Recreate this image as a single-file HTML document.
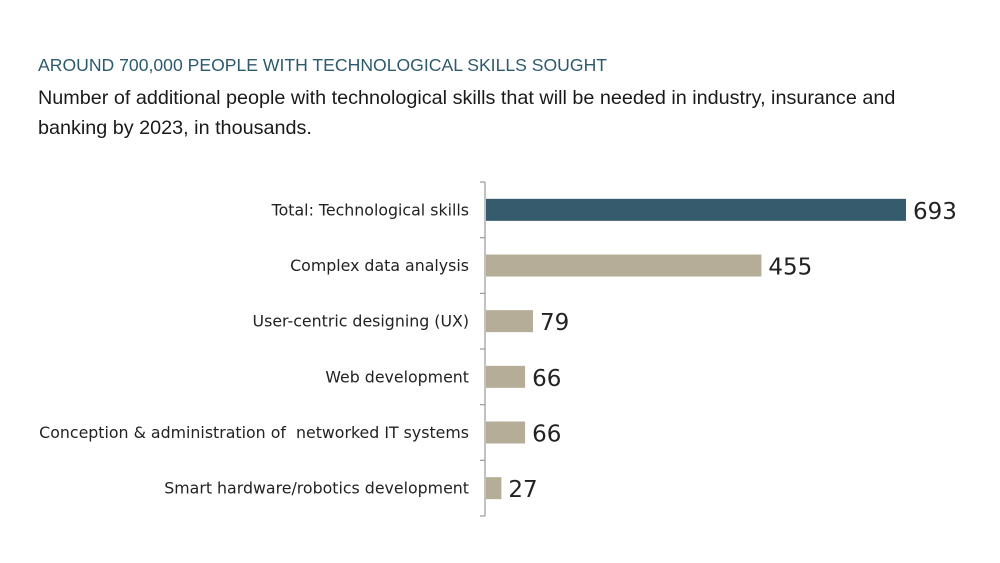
<!DOCTYPE html>
<html><head><meta charset="utf-8"><style>
body{margin:0;width:1000px;height:563px;background:#fff;overflow:hidden;font-family:"Liberation Sans",sans-serif}
#t{position:absolute;left:38px;top:55px;font-size:17.6px;color:#2e5a6e}
#s{position:absolute;left:38px;top:83px;font-size:19.8px;color:#1a1a1a;line-height:30px;width:880px}
svg{position:absolute;left:0;top:0}
</style></head><body>
<div id="t">AROUND 700,000 PEOPLE WITH TECHNOLOGICAL SKILLS SOUGHT</div>
<div id="s">Number of additional people with technological skills that will be needed in industry, insurance and banking by 2023, in thousands.</div>
<svg id="c" width="1000" height="563"></svg>
<script>
const categories=["Total: Technological skills","Complex data analysis","User-centric designing (UX)","Web development","Conception & administration of  networked IT systems","Smart hardware/robotics development"];
const values=[693,455,79,66,66,27];
const highlight=[true,false,false,false,false,false];
const svg=document.getElementById('c');const NS='http://www.w3.org/2000/svg';
const x0=485,scale=(906-485)/693,top0=182,bottom0=516;
const band=(bottom0-top0)/categories.length;
const xs=v=>x0+v*scale;
function mk(t,a){const e=document.createElementNS(NS,t);for(const k in a)e.setAttribute(k,a[k]);svg.appendChild(e);return e;}
const ax=mk('line',{x1:x0,y1:top0,x2:x0,y2:bottom0,stroke:'#999','stroke-width':1.2});


for(let i=0;i<=categories.length;i++){const y=top0+i*band;const tk=mk('line',{x1:x0-5,y1:y,x2:x0,y2:y,stroke:'#999','stroke-width':1.2});

}
categories.forEach((c,i)=>{const cy=top0+band*(i+0.5);
const r=mk('rect',{x:x0+1,y:cy-11,width:xs(values[i])-x0-1,height:22,fill:highlight[i]?'#355b6c':'#b5ad97'});


const l=mk('text',{x:469,y:cy+5.5,'text-anchor':'end','font-size':15.8,fill:'#222','font-family':'DejaVu Sans, sans-serif'});l.textContent=c;


l.setAttribute('style','white-space:pre');
const v=mk('text',{x:xs(values[i])+7,y:cy+9,'font-size':23,fill:'#222','font-family':'DejaVu Sans, sans-serif'});v.textContent=values[i];

});
</script>
</body></html>
